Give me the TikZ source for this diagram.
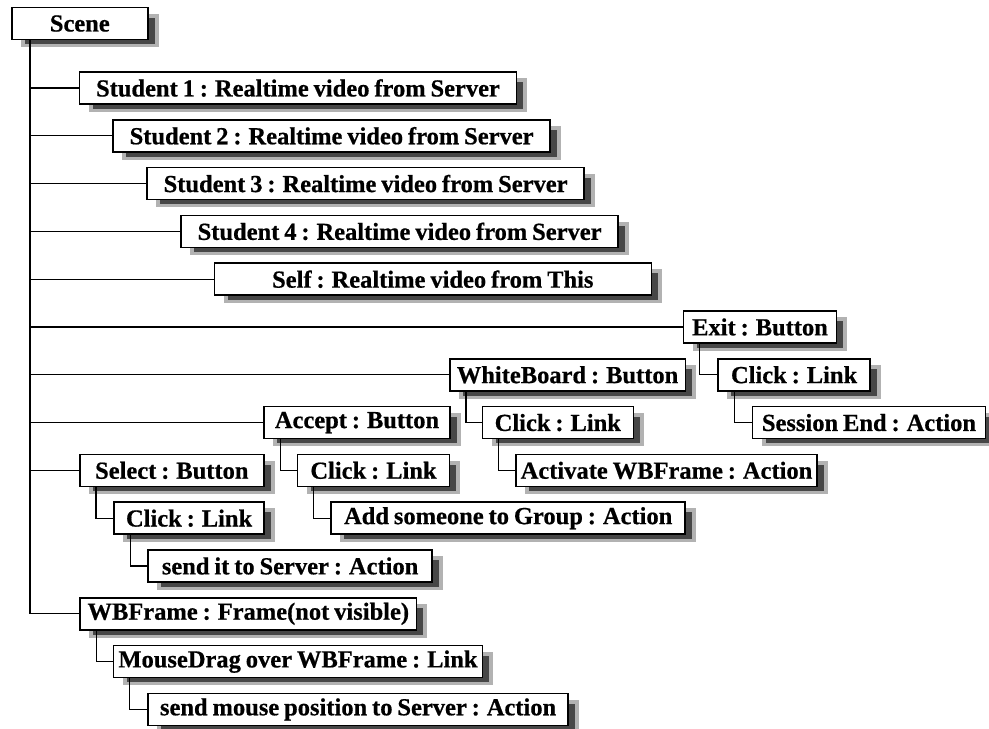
\documentclass[tikz,border=0pt]{standalone}
\usepackage{fontspec}
\setmainfont[WordSpace=0.8,BoldFeatures={FakeBold=0.6}]{Liberation Serif}
\usetikzlibrary{backgrounds}
\tikzset{
  item/.style={draw, line width=1.6pt, fill=white, minimum height=32pt,
    inner sep=0pt, anchor=west, font=\bfseries\fontsize{24.5}{28}\selectfont},
  branch/.style={line width=1.3pt},
  shade light/.style={fill=black!30},
  shade dark/.style={fill=black!72}
}

\begin{document}
\begin{tikzpicture}[x=1pt,y=-1pt]
  \useasboundingbox (0,0) rectangle (989,729);

  \node [item, minimum width=136pt] (scene) at (11,23.5) {Scene};

  \node [item, minimum width=437pt] (stuA) at (78.7,88) {Student 1 : Realtime video from Server};
  \node [item, minimum width=437pt] (stuB) at (112.3,135.8) {Student 2 : Realtime video from Server};
  \node [item, minimum width=437pt] (stuC) at (146.3,183.6) {Student 3 : Realtime video from Server};
  \node [item, minimum width=437pt] (stuD) at (180.3,231.4) {Student 4 : Realtime video from Server};
  \node [item, minimum width=437pt] (self) at (213.5,279.2) {Self : Realtime video from This};

  \node [item, minimum width=153pt] (exit) at (682.7,327) {Exit : Button};
  \node [item, minimum width=152pt] (exitclick) at (717.3,374.8) {Click : Link};
  \node [item, minimum width=233pt] (sessionend) at (751.7,422.6) {Session End : Action};

  \node [item, minimum width=235.5pt] (wboard) at (449,374.8) {WhiteBoard : Button};
  \node [item, minimum width=151pt] (wbclick) at (481.5,422.6) {Click : Link};
  \node [item, minimum width=301pt] (activate) at (515.2,470.4) {Activate WBFrame : Action};

  \node [item, minimum width=185.6pt] (accept) at (263.4,422.6) {Accept : Button};
  \node [item, minimum width=152pt] (accclick) at (296.7,470.4) {Click : Link};
  \node [item, minimum width=354pt] (addsome) at (330.4,518.2) {Add someone to Group : Action};

  \node [item, minimum width=184pt] (select) at (79,470.4) {Select : Button};
  \node [item, minimum width=150pt] (selclick) at (113.3,518.2) {Click : Link};
  \node [item, minimum width=284pt] (sendit) at (147.3,566) {send it to Server : Action};

  \node [item, minimum width=336.4pt] (wbframe) at (79.3,613.8) {WBFrame : Frame(not visible)};
  \node [item, minimum width=369pt] (mousedrag) at (112.7,661.6) {MouseDrag over WBFrame : Link};
  \node [item, minimum width=420pt] (sendmouse) at (147.3,709.4) {send mouse position to Server : Action};

  \foreach \c in {stuA,stuB,stuC,stuD,self,exit,wboard,accept,select,wbframe}
    \draw [branch] ([xshift=19pt]scene.south west) |- (\c.west);

  \foreach \p/\c in {exit/exitclick,exitclick/sessionend,wboard/wbclick,wbclick/activate,
      accept/accclick,accclick/addsome,select/selclick,selclick/sendit,
      wbframe/mousedrag,mousedrag/sendmouse}
    \draw [branch] ([xshift=17pt]\p.south west) |- (\c.west);

  \begin{pgfonlayer}{background}
    \foreach \n in {scene,stuA,stuB,stuC,stuD,self,exit,exitclick,sessionend,wboard,wbclick,
        activate,accept,accclick,addsome,select,selclick,sendit,wbframe,mousedrag,sendmouse} {
      \fill [shade light] ([shift={(10,7)}]\n.north west) rectangle ([shift={(10,7)}]\n.south east);
      \fill [shade dark] ([shift={(14,11)}]\n.north west) rectangle ([shift={(6,4)}]\n.south east);
    }
  \end{pgfonlayer}
\end{tikzpicture}
\end{document}
